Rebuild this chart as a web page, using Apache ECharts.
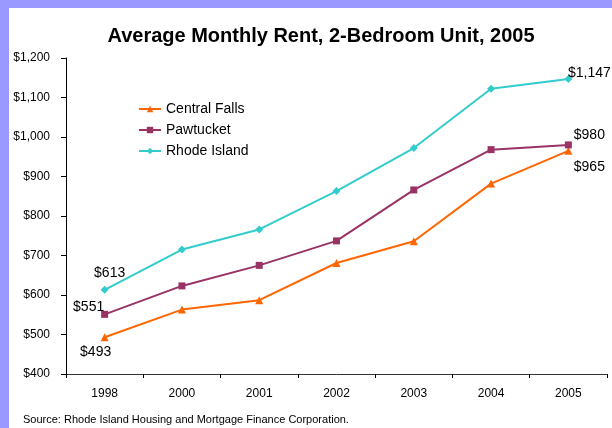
<!DOCTYPE html>
<html lang="en">
<head>
    <meta charset="UTF-8">
    <title>Average Monthly Rent</title>
    <style>
        body { margin: 0; }
        #main { width: 612px; height: 428px; background: #fff; }
    </style>
</head>
<body>
<div id="main"></div>
<script src="https://cdn.jsdelivr.net/npm/echarts@6/dist/echarts.min.js"></script>
<script>
    var years = ['1998', '2000', '2001', '2002', '2003', '2004', '2005'];
    var centralFalls = [493, 563, 587, 681, 736, 882, 965];
    var pawtucket = [551, 623, 675, 737, 866, 968, 980];
    var rhodeIsland = [613, 715, 766, 863, 972, 1122, 1147];
    var colors = ['#FF6600', '#993366', '#33CCCC'];

    var fmt = function (v) {
        return '$' + v.toLocaleString('en-US');
    };

    // only first and last points carry labels
    function withLabels(arr, first, last) {
        return arr.map(function (v, i) {
            if (i === 0) return { value: v, label: Object.assign({ show: true }, first) };
            if (i === arr.length - 1) return { value: v, label: Object.assign({ show: true }, last) };
            return v;
        });
    }

    var labelStyle = { color: '#000', fontSize: 14, fontFamily: 'Liberation Sans', formatter: function (p) { return fmt(p.value); } };

    var myChart = echarts.init(document.getElementById('main'));
    var option = {
        animation: false,
        textStyle: { fontFamily: 'Liberation Sans' },
        title: {
            text: 'Average Monthly Rent, 2-Bedroom Unit, 2005',
            left: 316,
            textAlign: 'center',
            top: 21,
            textStyle: { fontSize: 20, fontWeight: 'bold', color: '#000', fontFamily: 'Liberation Sans' }
        },
        graphic: [
            { type: 'rect', shape: { x: 0, y: 0, width: 612, height: 8 }, style: { fill: '#9999FF' } },
            { type: 'rect', shape: { x: 0, y: 0, width: 9, height: 428 }, style: { fill: '#9999FF' } },
            {
                type: 'text', left: 23, top: 414,
                style: { text: 'Source: Rhode Island Housing and Mortgage Finance Corporation.', fontSize: 11, fill: '#000', fontFamily: 'Liberation Sans' }
            }
        ],
        legend: {
            orient: 'vertical',
            left: 133,
            top: 97,
            itemWidth: 22,
            itemHeight: 8,
            itemGap: 7,
            textStyle: { fontSize: 14, color: '#000' },
            data: ['Central Falls', 'Pawtucket', 'Rhode Island']
        },
        grid: { left: 66, right: 5, top: 58, bottom: 54 },
        xAxis: {
            type: 'category',
            data: years,
            boundaryGap: true,
            axisLine: { lineStyle: { color: '#333', width: 1 } },
            axisTick: { show: true, length: 4, lineStyle: { color: '#000' } },
            axisLabel: { color: '#000', fontSize: 12, margin: 14 }
        },
        yAxis: {
            type: 'value',
            min: 400,
            max: 1200,
            interval: 100,
            axisLine: { show: true, lineStyle: { color: '#000' } },
            axisTick: { show: true, length: 5, lineStyle: { color: '#000' } },
            splitLine: { show: false },
            axisLabel: { color: '#000', fontSize: 12, margin: 16, formatter: fmt }
        },
        series: [
            {
                name: 'Central Falls',
                type: 'line',
                symbol: 'triangle',
                symbolSize: 8,
                itemStyle: { color: colors[0] },
                lineStyle: { width: 2 },
                label: labelStyle,
                data: withLabels(centralFalls,
                    { position: 'bottom', offset: [-9, -1] },
                    { position: 'bottom', offset: [21, 0] })
            },
            {
                name: 'Pawtucket',
                type: 'line',
                symbol: 'rect',
                symbolSize: 7,
                itemStyle: { color: colors[1] },
                lineStyle: { width: 2 },
                label: labelStyle,
                data: withLabels(pawtucket,
                    { position: 'top', offset: [-16, 8] },
                    { position: 'top', offset: [21, 6] })
            },
            {
                name: 'Rhode Island',
                type: 'line',
                symbol: 'diamond',
                symbolSize: 8,
                itemStyle: { color: colors[2] },
                lineStyle: { width: 2 },
                label: labelStyle,
                data: withLabels(rhodeIsland,
                    { position: 'top', offset: [5, -1] },
                    { position: 'top', offset: [21, 10] })
            }
        ]
    };
    myChart.setOption(option);
</script>
</body>
</html>
